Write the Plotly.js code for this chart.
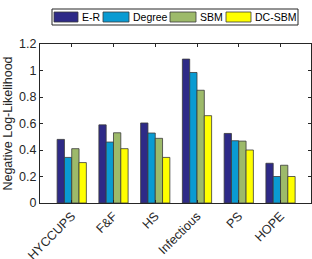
<!DOCTYPE html>
<html>
<head>
<meta charset="utf-8">
<script src="https://cdn.plot.ly/plotly-3.0.1.min.js"></script>
<style>html,body{margin:0;padding:0;background:#fff;}#chart{width:312px;height:259px;}</style>
</head>
<body>
<div id="chart"></div>
<script>
const categories = ["HYCCUPS", "F&F", "HS", "Infectious", "PS", "HOPE"];
const seriesNames = ["E-R", "Degree", "SBM", "DC-SBM"];
const erValues = [0.48, 0.59, 0.604, 1.086, 0.525, 0.30];
const degreeValues = [0.344, 0.46, 0.528, 0.985, 0.47, 0.20];
const sbmValues = [0.41, 0.53, 0.488, 0.851, 0.467, 0.285];
const dcsbmValues = [0.305, 0.41, 0.344, 0.659, 0.40, 0.20];
const yTickValues = [0, 0.2, 0.4, 0.6, 0.8, 1, 1.2];
const yTickLabels = ["0", "0.2", "0.4", "0.6", "0.8", "1", "1.2"];

const colors = ["#2E2A87", "#0A9BD2", "#9DBA6A", "#FFFF00"];
const allValues = [erValues, degreeValues, sbmValues, dcsbmValues];

const traces = allValues.map((vals, i) => ({
  type: "bar",
  name: seriesNames[i],
  x: categories,
  y: vals,
  marker: {color: colors[i], line: {color: "#3a3a3a", width: 0.8}}
}));

const W = 312, H = 259;
const M = {l: 40, r: 1, t: 44, b: 56};
const plotW = W - M.l - M.r, plotH = H - M.t - M.b;
const px = v => (v - M.l) / plotW;
const py = v => (H - M.b - v) / plotH;

const font = {family: "Liberation Sans, Arial, sans-serif", size: 12.5, color: "#262626"};
const legFont = {family: "Liberation Sans, Arial, sans-serif", size: 10.5, color: "#000"};

// custom legend (MATLAB style wide swatches)
const legBox = {x0: 52, x1: 298, y0: 9, y1: 25};
const swatchX = [[54, 78], [103, 129], [170, 196], [226, 251]];
const swatchY = [12, 22];
const shapes = [{
  type: "rect", xref: "paper", yref: "paper",
  x0: px(legBox.x0), x1: px(legBox.x1), y0: py(legBox.y1), y1: py(legBox.y0),
  line: {color: "#262626", width: 1}, fillcolor: "#fff"
}];
const annotations = [];
seriesNames.forEach((name, i) => {
  shapes.push({
    type: "rect", xref: "paper", yref: "paper",
    x0: px(swatchX[i][0]), x1: px(swatchX[i][1]), y0: py(swatchY[1]), y1: py(swatchY[0]),
    line: {color: "#3a3a3a", width: 0.8}, fillcolor: colors[i]
  });
  annotations.push({
    xref: "paper", yref: "paper", x: px(swatchX[i][1] + 2), y: py(17),
    xanchor: "left", yanchor: "middle", text: name, showarrow: false,
    font: legFont
  });
});

const layout = {
  width: W, height: H,
  margin: M,
  paper_bgcolor: "#fff", plot_bgcolor: "#fff",
  font: font,
  barmode: "group",
  bargap: 0.3,
  bargroupgap: 0,
  showlegend: false,
  shapes: shapes,
  annotations: annotations,
  xaxis: {
    type: "category",
    range: [-0.76, 5.73],
    tickangle: -45,
    ticks: "inside", ticklen: 3, tickcolor: "#262626",
    showline: true, linecolor: "#262626", linewidth: 1, mirror: "ticks",
    showgrid: false, zeroline: false,
    tickfont: font, fixedrange: true
  },
  yaxis: {
    range: [0, 1.2],
    tickvals: yTickValues, ticktext: yTickLabels,
    ticks: "inside", ticklen: 3, tickcolor: "#262626",
    showline: true, linecolor: "#262626", linewidth: 1, mirror: "ticks",
    showgrid: false, zeroline: false,
    tickfont: font,
    title: {text: "Negative Log-Likelihood", font: font, standoff: 3}
  }
};

Plotly.newPlot("chart", traces, layout, {displayModeBar: false, staticPlot: true});
</script>
</body>
</html>
